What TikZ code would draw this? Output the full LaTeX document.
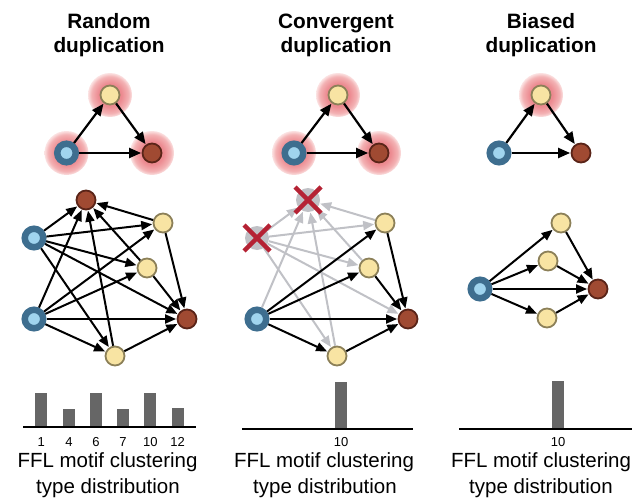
\documentclass[tikz,border=0pt]{standalone}
\usepackage{fontspec}
\setmainfont{Liberation Sans}
\usetikzlibrary{arrows.meta}
\definecolor{yfill}{RGB}{248,228,163}
\definecolor{ybord}{RGB}{140,128,88}
\definecolor{bdark}{RGB}{62,110,143}
\definecolor{blight}{RGB}{160,212,238}
\definecolor{brfill}{RGB}{160,74,50}
\definecolor{brbord}{RGB}{90,36,24}
\definecolor{faded}{RGB}{192,193,198}
\definecolor{crossred}{RGB}{181,34,52}
\definecolor{barfill}{RGB}{102,102,102}
\definecolor{glowA}{RGB}{236,138,144}
\definecolor{glowB}{RGB}{243,178,180}
\definecolor{glowC}{RGB}{251,226,226}
\pgfdeclareradialshading{glow}{\pgfpoint{0bp}{0bp}}{color(0bp)=(glowA); color(13bp)=(glowA); color(21bp)=(glowB); color(25bp)=(glowC); color(50bp)=(glowC)}
\pgfdeclarelayer{bg}
\pgfsetlayers{bg,main}
\begin{document}
\begin{tikzpicture}[x=1pt,y=-1pt,
  title/.style={font=\fontsize{20.8}{24}\selectfont\bfseries, anchor=base, inner sep=0},
  caption/.style={font=\fontsize{20.5}{24}\selectfont, anchor=base, inner sep=0},
  tick/.style={font=\fontsize{13}{15}\selectfont, anchor=base, inner sep=0},
  yel/.style={circle, draw=ybord, fill=yfill, line width=1.8pt, minimum size=19pt, inner sep=0},
  blu/.style={circle, draw=bdark, fill=blight, line width=6.5pt, minimum size=18.5pt, inner sep=0},
  brn/.style={circle, draw=brbord, fill=brfill, line width=1.8pt, minimum size=19pt, inner sep=0},
  gone/.style={circle, fill=faded, minimum size=24pt, inner sep=0},
  arr/.style={-{Triangle[length=11pt,width=9pt]}, line width=2pt, shorten >=0.5pt},
  bigarr/.style={-{Triangle[length=12pt,width=10pt]}, line width=2.2pt, shorten >=0.5pt},
  farr/.style={arr, draw=faded},
  xmark/.style={draw=crossred, line width=4.5pt},
  axis/.style={line width=2pt},
  bar/.style={fill=barfill}]
\useasboundingbox (0,0) rectangle (644,500);

% ---- titles ----
\node[title] (t1a) at (109,29) {Random};
\node[title] (t1b) at (109,53) {duplication};
\node[title] (t2a) at (336,29) {Convergent};
\node[title] (t2b) at (336,53) {duplication};
\node[title] (t3a) at (541,29) {Biased};
\node[title] (t3b) at (541,53) {duplication};

% ---- feed-forward loop motifs ----
\node[yel] (a1) at (110,95) {};
\node[blu] (b1) at (66.5,153) {};
\node[brn] (c1) at (152,153) {};
\node[yel] (a2) at (338,95) {};
\node[blu] (b2) at (294,153) {};
\node[brn] (c2) at (379,153) {};
\node[yel] (a3) at (541,95) {};
\node[blu] (b3) at (499,153) {};
\node[brn] (c3) at (581,153) {};
\begin{pgfonlayer}{bg}
  \foreach \n in {a1,b1,c1,a2,b2,c2,a3}
    \shade[shading=glow] (\n.center) circle (22);
\end{pgfonlayer}
\foreach \i in {1,2,3} {
  \draw[bigarr] (b\i) -- (a\i);
  \draw[bigarr] (a\i) -- (c\i);
  \draw[bigarr] (b\i) -- (c\i);
}

% ---- random duplication network ----
\node[blu] (p1) at (34,238) {};
\node[blu] (p2) at (34,319) {};
\node[brn] (q1) at (86,200) {};
\node[yel] (r1) at (163,223) {};
\node[yel] (r2) at (147,268) {};
\node[yel] (r3) at (115,356) {};
\node[brn] (q2) at (187,319) {};
\foreach \s in {p1,p2}
  \foreach \t in {q1,r1,r2,q2,r3}
    \draw[arr] (\s) -- (\t);
\foreach \s in {r1,r2,r3} {
  \draw[arr] (\s) -- (q1);
  \draw[arr] (\s) -- (q2);
}

% ---- convergent duplication network ----
\node[gone] (g1) at (257,238) {};
\node[gone] (g2) at (308,200) {};
\node[blu] (u1) at (257,319) {};
\node[yel] (v1) at (385,223) {};
\node[yel] (v2) at (369,268) {};
\node[yel] (v3) at (337,356) {};
\node[brn] (w1) at (408,319) {};
\foreach \t in {g2,v1,v2,w1,v3}
  \draw[farr] (g1) -- (\t);
\foreach \s in {u1,v1,v2,v3}
  \draw[farr] (\s) -- (g2);
\foreach \t in {v1,v2,w1,v3}
  \draw[arr] (u1) -- (\t);
\foreach \s in {v1,v2,v3}
  \draw[arr] (\s) -- (w1);
\foreach \g in {g1,g2} {
  \draw[xmark] ([shift={(-13,-13)}]\g.center) -- ([shift={(13,13)}]\g.center);
  \draw[xmark] ([shift={(-13,13)}]\g.center) -- ([shift={(13,-13)}]\g.center);
}

% ---- biased duplication network ----
\node[blu] (k1) at (480,289) {};
\node[yel] (m1) at (561,223) {};
\node[yel] (m2) at (548,261) {};
\node[yel] (m3) at (547,318) {};
\node[brn] (n1) at (598,289) {};
\foreach \t in {m1,m2,n1,m3}
  \draw[arr] (k1) -- (\t);
\foreach \s in {m1,m2,m3}
  \draw[arr] (\s) -- (n1);

% ---- clustering type distributions ----
\foreach \x/\h/\lab in {41.3/393/1, 69/409/4, 95.9/393/6, 123.1/409/7, 150.4/393/10, 177.7/408/12} {
  \fill[bar] (\x-6,\h) rectangle (\x+6,427);
  \node[tick] at (\x,446) {\lab};
}
\draw[axis] (23,427) -- (196,427);
\fill[bar] (335,382) rectangle (347,429);
\draw[axis] (242,429) -- (413,429);
\node[tick] at (341,446) {10};
\fill[bar] (552,381) rectangle (564,429);
\draw[axis] (459,429) -- (632,429);
\node[tick] at (558,446) {10};

\node[caption] (f1) at (107.5,467) {FFL motif clustering};
\node[caption] (d1) at (108,493) {type distribution};
\node[caption] (f2) at (324,467) {FFL motif clustering};
\node[caption] (d2) at (325,493) {type distribution};
\node[caption] (f3) at (541,467) {FFL motif clustering};
\node[caption] (d3) at (541,493) {type distribution};
\end{tikzpicture}
\end{document}
